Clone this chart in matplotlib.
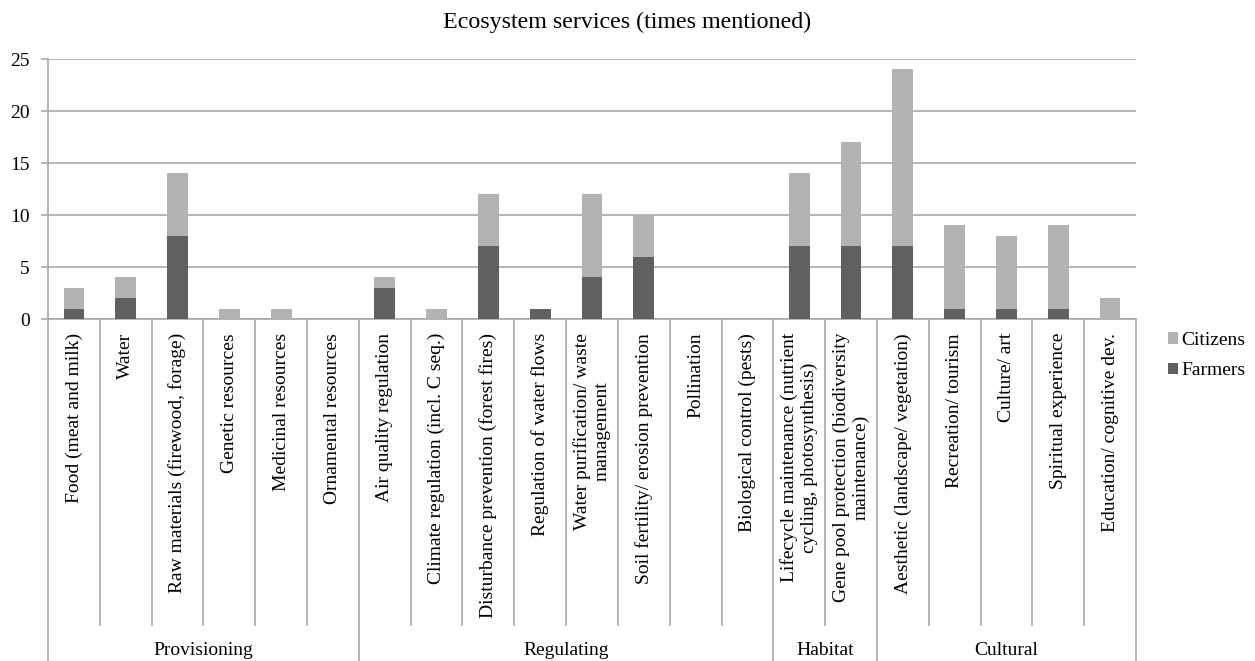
import matplotlib
matplotlib.use("Agg")
import matplotlib.pyplot as plt
import numpy as np

plt.rcParams['font.family'] = ['Liberation Serif', 'DejaVu Serif']

categories = [
    "Food (meat and milk)", "Water", "Raw materials (firewood, forage)",
    "Genetic resources", "Medicinal resources", "Ornamental resources",
    "Air quality regulation", "Climate regulation (incl. C seq.)",
    "Disturbance prevention (forest fires)", "Regulation of water flows",
    "Water purification/ waste\nmanagement", "Soil fertility/ erosion prevention",
    "Pollination", "Biological control (pests)",
    "Lifecycle maintenance (nutrient\ncycling, photosynthesis)",
    "Gene pool protection (biodiversity\nmaintenance)",
    "Aesthetic (landscape/ vegetation)", "Recreation/ tourism", "Culture/ art",
    "Spiritual experience", "Education/ cognitive dev.",
]
farmers = [1, 2, 8, 0, 0, 0, 3, 0, 7, 1, 4, 6, 0, 0, 7, 7, 7, 1, 1, 1, 0]
citizens = [2, 2, 6, 1, 1, 0, 1, 1, 5, 0, 8, 4, 0, 0, 7, 10, 17, 8, 7, 8, 2]
groups = ["Provisioning", "Regulating", "Habitat", "Cultural"]
group_sizes = [6, 8, 2, 5]
yticks = [0, 5, 10, 15, 20, 25]

W, H = 1255, 661
fig = plt.figure(figsize=(W / 100, H / 100), dpi=100)
ax_l, ax_r, ax_t, ax_b = 48, 1136, 59, 319
ax = fig.add_axes([ax_l / W, 1 - ax_b / H, (ax_r - ax_l) / W, (ax_b - ax_t) / H])

x = np.arange(len(categories))
c_far = '#606060'
c_cit = '#b3b3b3'
grid_c = '#a8a8a8'
ax.bar(x, farmers, width=0.4, color=c_far, label='Farmers', zorder=3)
ax.bar(x, citizens, width=0.4, bottom=farmers, color=c_cit, label='Citizens', zorder=3)

ax.set_xlim(-0.5, len(categories) - 0.5)
ax.set_ylim(0, 25)
ax.set_yticks(yticks)
ax.yaxis.grid(True, color=grid_c, linewidth=1.2, zorder=0)
ax.tick_params(axis='y', length=5, width=1.2, color=grid_c, pad=8, labelsize=14)
for s in ['top', 'right']:
    ax.spines[s].set_visible(False)
ax.spines['left'].set_color(grid_c)
ax.spines['left'].set_linewidth(1.2)
ax.spines['bottom'].set_color(grid_c)
ax.spines['bottom'].set_linewidth(1.2)

ax.set_xticks(x)
ax.set_xticklabels(categories, rotation=90, fontsize=14, ha='center', va='top',
                   multialignment='center')
ax.tick_params(axis='x', length=0, pad=10)

axh = ax_b - ax_t
y_cat = -(625 - ax_b) / axh
y_grp = -(H - ax_b) / axh
trans = ax.get_xaxis_transform()
bounds = np.cumsum([0] + group_sizes) - 0.5
for b in np.arange(-0.5, len(categories)):
    yend = y_grp if np.any(np.isclose(bounds, b)) else y_cat
    ax.plot([b, b], [0, yend], color=grid_c, linewidth=1.2, transform=trans,
            clip_on=False, zorder=1)

y_lab = -(650 - ax_b) / axh
for g, lo, hi in zip(groups, bounds[:-1], bounds[1:]):
    ax.text((lo + hi) / 2, y_lab, g, transform=trans, ha='center', va='center',
            fontsize=14)

fig.suptitle("Ecosystem services (times mentioned)", fontsize=17.3, y=1 - 22 / H, va='center')

handles, labels = ax.get_legend_handles_labels()
leg = fig.legend(handles[::-1], labels[::-1], loc='upper left',
                 bbox_to_anchor=(1158 / W, 1 - 322 / H), frameon=False,
                 fontsize=14, handlelength=0.55, handleheight=0.55,
                 handletextpad=0.15, labelspacing=0.7, borderpad=0)

fig.savefig("out.png", dpi=100)
